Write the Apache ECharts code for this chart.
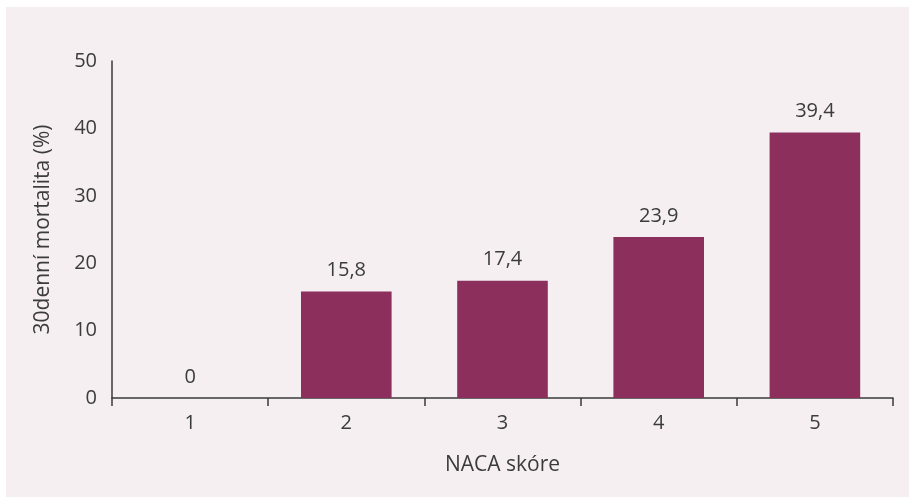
<!DOCTYPE html>
<html>
<head>
<meta charset="utf-8">
<script src="https://cdn.jsdelivr.net/npm/echarts@6/dist/echarts.min.js"></script>
<style>
  html, body { margin: 0; padding: 0; background: #fff; }
  #chart { position: absolute; left: 6px; top: 7px; width: 903px; height: 490px; }
</style>
</head>
<body>
<div id="chart"></div>
<script>
const categories = ['1', '2', '3', '4', '5'];
const mortality = [0, 15.8, 17.4, 23.9, 39.4];

const textColor = '#3b3b3b';
const fontFamily = '"Open Sans", sans-serif';

const chart = echarts.init(document.getElementById('chart'));
chart.setOption({
  backgroundColor: '#f5eff1',
  animation: false,
  grid: { left: 106, top: 54, right: 16, bottom: 99, containLabel: false },
  xAxis: {
    type: 'category',
    data: categories,
    name: 'NACA skóre',
    nameLocation: 'middle',
    nameGap: 57,
    nameTextStyle: { color: textColor, fontSize: 21, fontFamily },
    axisLine: { lineStyle: { color: '#3a3a3a', width: 1.5 } },
    axisTick: { show: true, alignWithLabel: false, length: 8, lineStyle: { color: '#3a3a3a', width: 1.5 } },
    axisLabel: { color: textColor, fontSize: 20, fontFamily, margin: 15 }
  },
  yAxis: {
    type: 'value',
    min: 0,
    max: 50,
    interval: 10,
    name: '30denní mortalita (%)',
    nameLocation: 'middle',
    nameGap: 58,
    nameTextStyle: { color: textColor, fontSize: 21, fontFamily },
    axisLine: { show: true, lineStyle: { color: '#3a3a3a', width: 1.5 } },
    axisTick: { show: false },
    splitLine: { show: false },
    axisLabel: { color: textColor, fontSize: 20, fontFamily, margin: 15 }
  },
  series: [{
    type: 'bar',
    data: mortality,
    barCategoryGap: '42%',
    itemStyle: { color: '#8c2f5c' },
    label: {
      show: true,
      position: 'top',
      distance: 11,
      color: textColor,
      fontSize: 20,
      fontFamily,
      formatter: p => String(p.value).replace('.', ',')
    }
  }]
});
</script>
</body>
</html>
